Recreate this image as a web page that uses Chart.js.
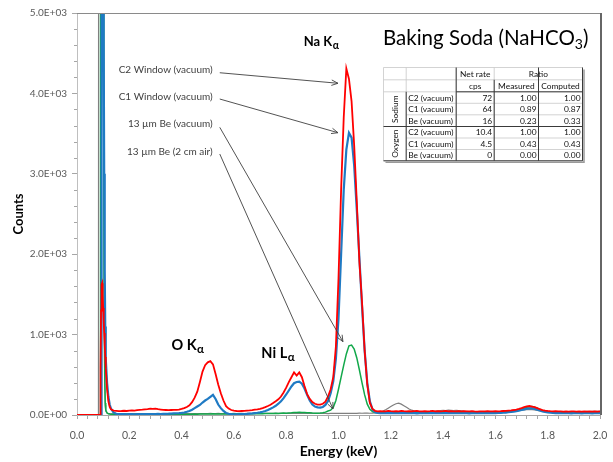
<!DOCTYPE html>
<html><head><meta charset="utf-8">
<script src="https://cdn.jsdelivr.net/npm/chart.js@4.4.1/dist/chart.umd.min.js"></script>
<style>html,body{margin:0;padding:0;background:#fff;}canvas{display:block;}</style>
</head><body>
<canvas id="c" width="613" height="462"></canvas>
<script>
// ---------- DATA ----------
const energy = [0, 0.04, 0.08, 0.082, 0.084, 0.086, 0.088, 0.09, 0.092, 0.094, 0.096, 0.098, 0.1, 0.102, 0.104, 0.106, 0.108, 0.11, 0.115, 0.12, 0.125, 0.13, 0.14, 0.15,
 0.16,0.17,0.18,0.19,0.20,0.21,0.22,0.23,0.24,0.25,
 0.26,0.27,0.28,0.29,0.30,0.31,0.32,0.33,0.34,0.35,
 0.36,0.37,0.38,0.39,0.40,0.41,0.42,0.43,0.44,0.45,
 0.46,0.47,0.48,0.49,0.50,0.51,0.52,0.53,0.54,0.55,
 0.56,0.57,0.58,0.59,0.60,0.61,0.62,0.63,0.64,0.65,
 0.66,0.67,0.68,0.69,0.70,0.71,0.72,0.73,0.74,0.75,
 0.76,0.77,0.78,0.79,0.80,0.81,0.82,0.83,0.84,0.85,
 0.86,0.87,0.88,0.89,0.90,0.91,0.92,0.93,0.94,0.95,
 0.96,0.97,0.98,0.99,1.00,1.01,1.02,1.03,1.04,1.05,
 1.06,1.07,1.08,1.09,1.10,1.11,1.12,1.13,1.14,1.15,
 1.16,1.17,1.18,1.19,1.20,1.21,1.22,1.23,1.24,1.25,
 1.26,1.27,1.28,1.29,1.30,1.31,1.32,1.33,1.34,1.35,
 1.36,1.37,1.38,1.39,1.40,1.41,1.42,1.43,1.44,1.45,
 1.46,1.47,1.48,1.49,1.50,1.51,1.52,1.53,1.54,1.55,
 1.56,1.57,1.58,1.59,1.60,1.61,1.62,1.63,1.64,1.65,
 1.66,1.67,1.68,1.69,1.70,1.71,1.72,1.73,1.74,1.75,
 1.76,1.77,1.78,1.79,1.80,1.81,1.82,1.83,1.84,1.85,
 1.86,1.87,1.88,1.89,1.90,1.91,1.92,1.93,1.94,1.95,
 1.96,1.97,1.98,1.99,2.00];

const c2Window = [0,0,0,0,0,0,0, 600,1300,1620,1640,1500,1330,1170,1020,870,720,580, 320,170,100,70,55,52,
 48,50,53,50,55,57,54,60,63,66,
 70,74,80,76,78,72,68,64,62,60,
 62,64,63,66,75,85,100,120,160,215,
 290,410,540,620,655,670,630,510,380,270,
 180,110,80,62,55,50,48,50,52,55,
 57,60,66,70,76,86,98,112,128,148,
 170,195,230,280,340,410,470,530,490,530,
 470,360,260,200,160,140,130,128,140,165,
 230,320,470,850,1700,2800,3700,4310,4180,3900,
 3350,2650,1900,1400,800,380,150,75,52,45,
 48,44,46,50,47,45,48,46,50,47,
 45,48,44,47,50,46,44,48,45,47,
 50,46,48,45,47,50,46,48,44,46,
 48,45,47,44,46,48,45,43,46,44,
 45,47,44,46,48,45,47,50,52,55,
 58,62,68,75,85,98,108,112,105,98,
 85,72,62,55,50,47,45,48,44,46,
 43,45,42,46,44,41,45,43,46,42,
 44,42,45,43,44];

const c1Window = [0,0,0,0,0,0,0, 0,0,12000,30000,15000,7000,4700,3000,1800,1100,700, 400,230,130,80,30,15,
 12,10,11,9,10,10,9,11,10,10,
 11,10,12,11,12,13,12,14,15,16,
 18,20,22,24,27,31,40,50,65,85,
 105,125,155,180,200,225,250,200,130,85,
 50,25,15,10,8,8,8,10,12,14,
 17,20,24,28,33,40,50,62,78,95,
 115,140,170,210,255,305,355,395,410,415,
 390,330,250,180,130,105,95,93,100,125,
 175,270,420,700,1200,2000,2800,3300,3510,3450,
 3100,2550,1950,1350,800,400,170,70,35,25,
 24,22,25,23,26,24,22,25,23,26,
 24,22,25,23,21,24,26,23,22,25,
 24,26,23,25,22,24,26,23,25,22,
 24,22,25,23,21,24,22,25,23,24,
 22,25,23,24,22,26,25,28,30,34,
 38,42,48,55,62,70,78,84,82,76,
 66,55,45,38,32,28,26,24,25,23,
 22,24,23,21,24,22,23,21,24,22,
 23,21,24,22,23];

const beVacuum = [0,0,0,0,0,0, 0,40000,40000,40000,40000,15000,7000,4000,1500,500,150,60, 25,15,12,10,9,9,
 8,9,7,8,9,8,7,9,8,8,
 9,8,7,9,8,8,9,7,8,9,
 8,9,8,10,9,8,10,9,10,11,
 10,12,11,12,13,12,14,13,12,13,
 12,14,13,12,14,13,15,14,15,16,
 15,16,17,16,18,17,19,18,20,19,
 21,20,22,24,23,25,27,30,32,33,
 30,31,29,27,24,22,22,24,28,36,
 50,60,95,180,320,470,620,760,860,870,
 820,710,560,400,250,135,70,42,30,28,
 30,28,32,29,31,30,33,29,31,30,
 29,31,30,28,32,30,29,31,30,28,
 31,29,30,32,28,30,31,29,30,32,
 30,28,31,29,30,32,29,31,28,30,
 30,32,29,31,30,33,32,35,38,42,
 46,52,58,66,75,85,95,102,105,98,
 85,70,55,45,38,34,32,30,31,29,
 30,28,31,29,30,32,28,30,29,31,
 30,28,31,29,30];

const beAir = [0,0,0,0, 0,40000,40000,40000,40000,40000,30000,15000,6500,3500,1200,400,120,50, 25,18,16,15,15,15,
 15,14,16,15,14,15,16,14,15,16,
 15,14,16,15,17,15,14,16,15,17,
 16,15,17,16,15,17,16,18,17,16,
 18,17,16,18,17,19,18,17,19,18,
 17,19,18,17,19,18,20,19,18,20,
 19,18,20,19,21,20,19,21,20,19,
 21,20,19,21,20,22,21,20,22,21,
 20,22,21,20,22,21,20,22,21,20,
 18,20,19,21,20,22,21,20,22,21,
 22,21,23,22,24,23,22,24,25,28,
 35,48,65,85,105,125,140,148,135,115,
 95,75,60,48,42,38,36,38,40,42,
 45,48,52,55,58,56,60,58,55,57,
 55,52,48,45,42,40,38,37,36,38,
 36,35,37,36,38,37,39,40,42,44,
 46,48,52,56,60,64,68,70,68,64,
 58,52,46,42,40,38,37,39,38,40,
 38,40,39,41,40,42,41,43,42,44,
 43,45,44,46,45];

const seriesNames = ['C2 Window (vacuum)', 'C1 Window (vacuum)', '13 µm Be (vacuum)', '13 µm Be (2 cm air)'];
const seriesValues = [c2Window, c1Window, beVacuum, beAir];
const seriesColors = ['#FF0000', '#1F7AC4', '#12A84A', '#7F7F7F'];
const seriesWidths = [1.8, 2.2, 1.5, 1.2];

const xTickLabels = ['0.0','0.2','0.4','0.6','0.8','1.0','1.2','1.4','1.6','1.8','2.0'];
const yTickLabels = ['0.0E+00','1.0E+03','2.0E+03','3.0E+03','4.0E+03','5.0E+03'];

// table
const tableElements = ['Sodium', 'Oxygen'];
const tableSamples = ['C2 (vacuum)', 'C1 (vacuum)', 'Be (vacuum)', 'C2 (vacuum)', 'C1 (vacuum)', 'Be (vacuum)'];
const tableNetRate = ['72', '64', '16', '10.4', '4.5', '0'];
const tableMeasured = ['1.00', '0.89', '0.23', '1.00', '0.43', '0.00'];
const tableComputed = ['1.00', '0.87', '0.33', '1.00', '0.43', '0.00'];

// ---------- CHART ----------
const FONT = 'Lato, "Liberation Sans", Arial, sans-serif';

const datasets = seriesValues.map((vals, k) => ({
  label: seriesNames[k],
  data: energy.map((e, i) => ({x: e, y: vals[i]})),
  borderColor: seriesColors[k],
  borderWidth: seriesWidths[k],
  pointRadius: 0,
  tension: 0,
  fill: false
}));

function near(v, step) { return Math.abs(v / step - Math.round(v / step)) < 1e-6; }

const annot = {
  id: 'annot',
  afterDraw(chart) {
    const ctx = chart.ctx, xs = chart.scales.x, ys = chart.scales.y, ca = chart.chartArea;
    const px = v => xs.getPixelForValue(v), py = v => ys.getPixelForValue(v);
    ctx.save();
    // plot border top/right
    ctx.strokeStyle = '#8A8A8A'; ctx.lineWidth = 1.2;
    ctx.beginPath(); ctx.moveTo(ca.left, ca.top + 0.5); ctx.lineTo(ca.right, ca.top + 0.5); ctx.stroke();
    ctx.strokeStyle = '#333'; ctx.lineWidth = 1.5;
    ctx.beginPath(); ctx.moveTo(ca.right + 1, ca.top); ctx.lineTo(ca.right + 1, ca.bottom); ctx.stroke();
    // minor y ticks
    ctx.strokeStyle = '#A6A6A6'; ctx.lineWidth = 1;
    for (let v = 200; v < 5000; v += 200) {
      if (near(v, 1000)) continue;
      const y = Math.round(py(v)) + 0.5;
      ctx.beginPath(); ctx.moveTo(ca.left - 3, y); ctx.lineTo(ca.left, y); ctx.stroke();
    }
    // axis titles
    ctx.fillStyle = '#000';
    ctx.textAlign = 'center'; ctx.textBaseline = 'middle';
    ctx.font = 'bold 14px ' + FONT;
    ctx.fillText('Energy (keV)', (ca.left + ca.right) / 2, 451);
    ctx.font = 'bold 13px ' + FONT;
    ctx.save(); ctx.translate(19, (ca.top + ca.bottom) / 2); ctx.rotate(-Math.PI / 2);
    ctx.fillText('Counts', 0, 0); ctx.restore();

    // peak labels with alpha subscript
    function peak(text, e, c, size) {
      ctx.font = 'bold ' + size + 'px ' + FONT;
      ctx.textAlign = 'left'; ctx.textBaseline = 'alphabetic';
      const x = px(e), y = py(c);
      ctx.fillText(text, x, y);
      const w = ctx.measureText(text).width;
      ctx.font = 'bold ' + (size * 0.8) + 'px ' + FONT;
      ctx.fillText('α', x + w + 0.5, y + 3);
    }
    peak('Na K', 0.867, 4590, 13);
    peak('O K', 0.361, 808, 14.5);
    peak('Ni L', 0.705, 709, 14.5);

    // title
    ctx.font = '20.5px ' + FONT; ctx.textAlign = 'left'; ctx.textBaseline = 'alphabetic';
    const tx = px(1.170), ty = py(4602);
    ctx.fillText('Baking Soda (NaHCO', tx, ty);
    let w = ctx.measureText('Baking Soda (NaHCO').width;
    ctx.font = '14px ' + FONT; ctx.fillText('3', tx + w, ty + 4);
    const w3 = ctx.measureText('3').width;
    ctx.font = '20.5px ' + FONT; ctx.fillText(')', tx + w + w3, ty);

    // series labels + arrows
    const labels = [
      {t: seriesNames[0], e: 0.519, c: 4297, s: [0.546, 4257], d: [0.998, 4126]},
      {t: seriesNames[1], e: 0.519, c: 3955, s: [0.546, 3930], d: [0.998, 3511]},
      {t: seriesNames[2], e: 0.519, c: 3626, s: [0.546, 3578], d: [1.017, 912]},
      {t: seriesNames[3], e: 0.519, c: 3277, s: [0.546, 3246], d: [0.979, 75]}
    ];
    ctx.font = '10px ' + FONT; ctx.fillStyle = '#404040';
    ctx.textAlign = 'right'; ctx.textBaseline = 'middle';
    ctx.strokeStyle = '#404040'; ctx.lineWidth = 0.9;
    labels.forEach(L => {
      ctx.fillText(L.t, px(L.e), py(L.c));
      const x0 = px(L.s[0]), y0 = py(L.s[1]), x1 = px(L.d[0]), y1 = py(L.d[1]);
      ctx.beginPath(); ctx.moveTo(x0, y0); ctx.lineTo(x1, y1); ctx.stroke();
      const a = Math.atan2(y1 - y0, x1 - x0), h = 7, sp = 0.4;
      ctx.beginPath();
      ctx.moveTo(x1 - h * Math.cos(a - sp), y1 - h * Math.sin(a - sp));
      ctx.lineTo(x1, y1);
      ctx.lineTo(x1 - h * Math.cos(a + sp), y1 - h * Math.sin(a + sp));
      ctx.stroke();
    });

    // table
    const ox = Math.round(px(1.1705)) + 0.5, oy = Math.round(py(4332)) + 0.5;
    const cx = [0, 22.7, 72.7, 110.7, 155, 199];
    const ry = [0, 12.3, 24.3, 35.8, 47.3, 59, 70.5, 82, 93.3];
    ctx.fillStyle = '#fff';
    ctx.fillRect(ox, oy, cx[5], ry[8]);
    ctx.strokeStyle = '#C8C8C8'; ctx.lineWidth = 0.8;
    ctx.beginPath();
    for (let r = 0; r <= 8; r++) {
      if (r === 3 || r === 4 || r === 6 || r === 7) { ctx.moveTo(ox + cx[1], oy + ry[r]); }
      else ctx.moveTo(ox, oy + ry[r]);
      ctx.lineTo(ox + cx[5], oy + ry[r]);
    }
    for (let k = 0; k <= 5; k++) {
      ctx.moveTo(ox + cx[k], oy); ctx.lineTo(ox + cx[k], oy + ry[8]);
    }
    ctx.stroke();
    ctx.strokeStyle = '#3A3A3A'; ctx.lineWidth = 1;
    ctx.beginPath();
    [2, 3, 4, 5].forEach(k => {
      const top = (k === 3) ? ry[1] : 0;
      ctx.moveTo(ox + cx[k], oy + top); ctx.lineTo(ox + cx[k], oy + ry[8]);
    });
    ctx.moveTo(ox + cx[1], oy + ry[2]); ctx.lineTo(ox + cx[1], oy + ry[8]);
    ctx.moveTo(ox, oy + ry[8]); ctx.lineTo(ox + cx[5], oy + ry[8]);
    ctx.moveTo(ox + cx[2], oy + ry[2]); ctx.lineTo(ox + cx[5], oy + ry[2]);
    ctx.moveTo(ox, oy + ry[5]); ctx.lineTo(ox + cx[5], oy + ry[5]);
    ctx.stroke();
    ctx.strokeStyle = '#9A9A9A'; ctx.lineWidth = 1.5;
    ctx.beginPath();
    ctx.moveTo(ox + 2, oy + ry[8] + 1.5); ctx.lineTo(ox + cx[5] + 1.5, oy + ry[8] + 1.5); ctx.lineTo(ox + cx[5] + 1.5, oy + 2);
    ctx.stroke();

    ctx.fillStyle = '#111';
    ctx.font = '8.4px ' + FONT; ctx.textBaseline = 'middle';
    const midY = r => oy + (ry[r] + ry[r + 1]) / 2 + 0.5;
    ctx.textAlign = 'center';
    ctx.fillText('Net rate', ox + (cx[2] + cx[3]) / 2, midY(0));
    ctx.fillText('Ratio', ox + (cx[3] + cx[5]) / 2, midY(0));
    ctx.fillText('cps', ox + (cx[2] + cx[3]) / 2, midY(1));
    ctx.fillText('Measured', ox + (cx[3] + cx[4]) / 2, midY(1));
    ctx.fillText('Computed', ox + (cx[4] + cx[5]) / 2, midY(1));
    for (let i = 0; i < 6; i++) {
      const y = midY(i + 2);
      ctx.textAlign = 'left'; ctx.fillText(tableSamples[i], ox + cx[1] + 2, y);
      ctx.textAlign = 'right';
      ctx.fillText(tableNetRate[i], ox + cx[3] - 2, y);
      ctx.fillText(tableMeasured[i], ox + cx[4] - 2, y);
      ctx.fillText(tableComputed[i], ox + cx[5] - 2, y);
    }
    tableElements.forEach((g, j) => {
      ctx.save();
      ctx.translate(ox + cx[1] / 2, oy + (ry[2 + 3 * j] + ry[5 + 3 * j]) / 2);
      ctx.rotate(-Math.PI / 2);
      ctx.textAlign = 'center'; ctx.fillText(g, 0, 0.5);
      ctx.restore();
    });
    ctx.restore();
  }
};

new Chart(document.getElementById('c'), {
  type: 'line',
  data: { datasets },
  options: {
    responsive: false,
    animation: false,
    devicePixelRatio: 1,
    layout: { padding: { left: 0, top: 13, right: 13, bottom: 0 } },
    plugins: { legend: { display: false }, tooltip: { enabled: false } },
    scales: {
      x: {
        type: 'linear', min: 0, max: 2,
        afterFit(s) { s.height = 47; s.paddingLeft = 0; s.paddingRight = 0; },
        grid: { drawOnChartArea: false, drawTicks: true, tickLength: 4, color: '#A6A6A6' },
        border: { color: '#A6A6A6', width: 1 },
        ticks: {
          stepSize: 0.04, autoSkip: false, maxRotation: 0, padding: 10,
          color: '#595959', font: { family: FONT, size: 10.5 },
          callback: v => near(v, 0.2) ? xTickLabels[Math.round(v / 0.2)] : ''
        }
      },
      y: {
        min: 0, max: 5000,
        afterFit(s) { s.width = 77; s.paddingTop = 0; s.paddingBottom = 0; },
        grid: { drawOnChartArea: false, drawTicks: true, tickLength: 5,
          color: c => (c.tick && near(c.tick.value, 1000)) ? '#A6A6A6' : 'rgba(0,0,0,0)' },
        border: { color: '#BFBFBF', width: 1 },
        ticks: {
          stepSize: 200, autoSkip: false, padding: 5,
          color: '#595959', font: { family: FONT, size: 10 },
          callback: v => near(v, 1000) ? yTickLabels[Math.round(v / 1000)] : ''
        }
      }
    }
  },
  plugins: [annot]
});
</script>
</body></html>
